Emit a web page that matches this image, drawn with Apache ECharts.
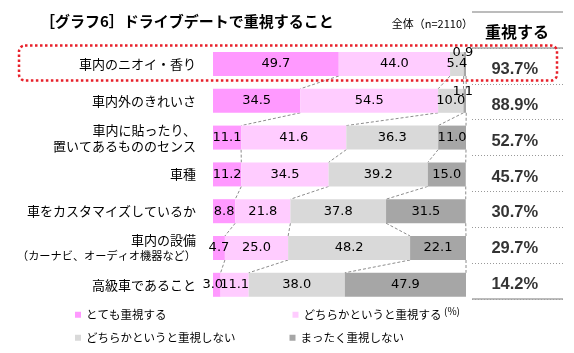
<!DOCTYPE html>
<html><head><meta charset="utf-8">
<script src="https://cdn.jsdelivr.net/npm/echarts@6/dist/echarts.min.js"></script>
<style>html,body{margin:0;padding:0;background:#fff}#c{width:574px;height:353px}</style>
</head><body><div id="c"></div>
<script>
const categories = ['車内のニオイ・香り','車内外のきれいさ','車内に貼ったり、\n置いてあるもののセンス','車種','車をカスタマイズしているか','車内の設備\n（カーナビ、オーディオ機器など）','高級車であること'];
const seriesNames = ['とても重視する','どちらかというと重視する','どちらかというと重視しない','まったく重視しない'];
const veryImportant = [49.7,34.5,11.1,11.2,8.8,4.7,3.0];
const somewhatImportant = [44.0,54.5,41.6,34.5,21.8,25.0,11.1];
const somewhatNot = [5.4,10.0,36.3,39.2,37.8,48.2,38.0];
const notAtAll = [0.9,1.1,11.0,15.0,31.5,22.1,47.9];
const importantTotal = [93.7,88.9,52.7,45.7,30.7,29.7,14.2];
const titleText = '［グラフ6］ドライブデートで重視すること';
const sampleText = '全体（n=2110）';
const headerText = '重視する';
const unitText = '(%)';

const colors = ['#ff99ff','#ffccff','#d9d9d9','#a6a6a6'];
const valueSets = [veryImportant, somewhatImportant, somewhatNot, notAtAll];
const labelOverrides = [
  {6:{offset:[-4,0]}},
  {},
  {},
  {0:{offset:[-2,-11]}, 1:{offset:[-2,-9]}}
];
function cum(row, k){ let s=0; for(let j=0;j<k;j++) s+=valueSets[j][row]; return s; }

const chart = echarts.init(document.getElementById('c'), null, {renderer:'canvas'});
const barSeries = valueSets.map((arr, si) => ({
  name: seriesNames[si], type:'bar', stack:'total', xAxisIndex:0, yAxisIndex:0,
  barWidth:24, itemStyle:{color:colors[si]},
  label:{show:true, position:'inside', color:'#000', fontSize:13, fontFamily:'DejaVu Sans',
         formatter:p=>p.value.toFixed(1)},
  data: arr.map((v,i)=> labelOverrides[si][i] ? {value:v, label:labelOverrides[si][i]} : v)
}));
const connector = {
  type:'custom', xAxisIndex:0, yAxisIndex:0, silent:true, z:1,
  data: categories.slice(0,-1).map((c,i)=>[0,i]),
  renderItem(params, api){
    const i = params.dataIndex, half = 12, children = [];
    for(let k=1;k<=4;k++){
      const p1 = api.coord([cum(i,k), i]);
      const p2 = api.coord([cum(i+1,k), i+1]);
      children.push({type:'line', shape:{x1:p1[0], y1:p1[1]+half, x2:p2[0], y2:p2[1]-half},
        style:{stroke:'#8c8c8c', lineWidth:1, lineDash:[3,2]}});
    }
    return {type:'group', children};
  }
};
const totals = {
  type:'scatter', xAxisIndex:1, yAxisIndex:1, symbolSize:1, itemStyle:{color:'rgba(0,0,0,0)'}, silent:true,
  data: importantTotal.map((v,i)=>[0.47,i]),
  label:{show:true, position:'inside', offset:[0,3.5], color:'#000', fontSize:16.5, fontWeight:'bold',
         fontFamily:'Liberation Sans', formatter:p=>importantTotal[p.dataIndex].toFixed(1)+'%'}
};
const legendBase = {orient:'horizontal', icon:'rect', itemWidth:6, itemHeight:6, padding:0,
  textStyle:{fontSize:11.5, color:'#000', fontFamily:'Noto Sans CJK JP'}, selectedMode:false};
const grayLine = {stroke:'#a6a6a6', lineWidth:1.5};
chart.setOption({
  animation:false,
  textStyle:{fontFamily:"'Noto Sans CJK JP', sans-serif"},
  grid:[{left:213, width:253, top:45.6, height:257.6, containLabel:false, outerBoundsMode:'none'},
        {left:472, width:91, top:48, height:251, containLabel:false, outerBoundsMode:'none'}],
  xAxis:[{gridIndex:0, type:'value', min:0, max:100, show:false},
         {gridIndex:1, type:'value', min:0, max:1, show:false}],
  yAxis:[{gridIndex:0, type:'category', data:categories, inverse:true,
          axisLine:{show:false}, axisTick:{show:false}, splitLine:{show:false},
          axisLabel:{margin:17, fontSize:13, color:'#000', lineHeight:16, fontFamily:'Noto Sans CJK JP',
            formatter:v=>v.split('\n').map((p,j)=> (j>0 && p.length>12) ? '{s|'+p+'}' : p).join('\n'),
            rich:{s:{fontSize:11.2, lineHeight:16, color:'#000', fontFamily:'Noto Sans CJK JP'}}}},
         {gridIndex:1, type:'category', data:categories, inverse:true,
          axisLine:{show:false}, axisTick:{show:false}, axisLabel:{show:false},
          splitLine:{show:true, lineStyle:{type:[1,2], color:'#999', width:1}}}],
  legend:[
    Object.assign({}, legendBase, {data:[seriesNames[0], seriesNames[1]], left:75, top:309, itemGap:126}),
    Object.assign({}, legendBase, {data:[seriesNames[2], seriesNames[3]], left:75, top:332, itemGap:54})
  ],
  graphic:[
    {type:'text', left:40, top:14, style:{text:titleText, fontSize:15, fontWeight:'bold', fill:'#000', fontFamily:'Noto Sans CJK JP'}},
    {type:'text', right:101, top:18, style:{text:sampleText, fontSize:11, fill:'#000', fontFamily:'Noto Sans CJK JP'}},
    {type:'text', x:517, y:32, style:{text:headerText, fontSize:16, fontWeight:'bold', fill:'#000', align:'center', verticalAlign:'middle', fontFamily:'Noto Sans CJK JP'}},
    {type:'text', x:444, y:306, style:{text:unitText, fontSize:10, fill:'#000', fontFamily:'Noto Sans CJK JP'}},
    {type:'line', shape:{x1:472, y1:12, x2:563, y2:12}, style:grayLine},
    {type:'line', shape:{x1:472, y1:48, x2:563, y2:48}, style:grayLine, z:10},
    {type:'line', shape:{x1:472, y1:299, x2:563, y2:299}, style:grayLine, z:10},
    {type:'rect', shape:{x:19, y:45.5, width:538, height:35, r:6}, z:20,
     style:{fill:'none', stroke:'#e8202a', lineWidth:2.5, lineDash:[2.5,2.5]}}
  ],
  series:[...barSeries, connector, totals]
});
</script></body></html>
